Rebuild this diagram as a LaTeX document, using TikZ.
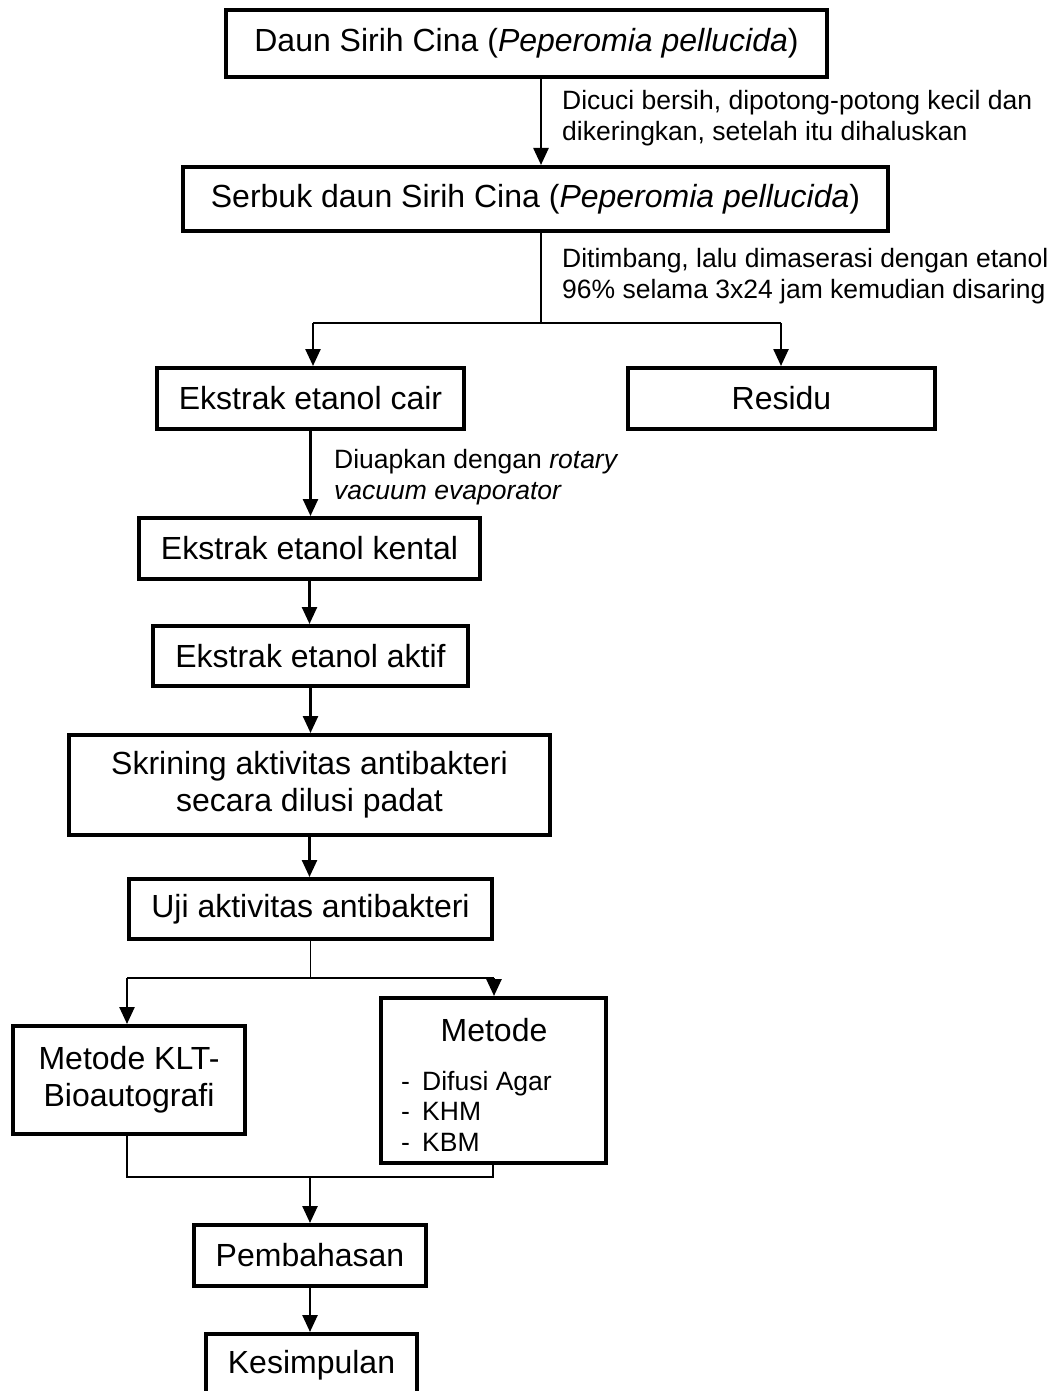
\documentclass[tikz,border=0pt]{standalone}
\usepackage{fontspec}
\setmainfont{Liberation Sans}
\usetikzlibrary{arrows.meta}
\begin{document}
\begin{tikzpicture}[x=1pt,y=-1pt,
  box/.style={draw,line width=4pt,inner sep=0pt,align=center,font=\fontsize{32}{37}\selectfont},
  lbl/.style={inner sep=0pt,align=left,anchor=west,font=\fontsize{26.5}{31}\selectfont},
  arr/.style={line width=2.5pt,-{Triangle[length=17pt,width=15pt]}},
  thinline/.style={line width=1.3pt}]
\useasboundingbox (0,0) rectangle (1060,1391);
\clip (0,0) rectangle (1060,1391);
% boxes
\node[box,minimum width=601pt,minimum height=67pt] (n1) at (526.5,43.5) {Daun Sirih Cina (\textit{Peperomia pellucida})};
\node[box,minimum width=705pt,minimum height=64pt] (n2) at (535.5,199) {Serbuk daun Sirih Cina (\textit{Peperomia pellucida})};
\node[box,minimum width=307pt,minimum height=61pt] (cair) at (310.5,398.5) {Ekstrak etanol cair};
\node[box,minimum width=307pt,minimum height=61pt] (res) at (781.5,398.5) {Residu};
\node[box,minimum width=341pt,minimum height=61pt] (kental) at (309.5,548.5) {Ekstrak etanol kental};
\node[box,minimum width=315pt,minimum height=60pt] (aktif) at (310.5,656) {Ekstrak etanol aktif};
\node[box,minimum width=481pt,minimum height=100pt] (skrin) at (309.5,785) {Skrining aktivitas antibakteri\\secara dilusi padat};
\node[box,minimum width=363pt,minimum height=60pt] (uji) at (310.5,909) {Uji aktivitas antibakteri};
\node[box,minimum width=232pt,minimum height=108pt] (klt) at (129,1080) {Metode KLT-\\Bioautografi};
\node[box,minimum width=225pt,minimum height=165pt] (met) at (493.5,1080.5) {};
\node[inner sep=0pt,font=\fontsize{32}{37}\selectfont] (metT) at (494,1030) {Metode};
\node[inner sep=0pt,anchor=north west,align=left,font=\fontsize{26.5}{30.5}\selectfont] (metL) at (401,1071)
  {\makebox[21pt][l]{-}Difusi Agar\\\makebox[21pt][l]{-}KHM\\\makebox[21pt][l]{-}KBM};
\node[box,minimum width=232pt,minimum height=61pt] (pemb) at (310,1255.5) {Pembahasan};
\node[box,minimum width=211pt,minimum height=62pt] (kes) at (311.5,1365) {Kesimpulan};
% labels
\node[lbl] (l1) at (562,118) {Dicuci bersih, dipotong-potong kecil dan\\dikeringkan, setelah itu dihaluskan};
\node[lbl] (l2) at (562,276) {Ditimbang, lalu dimaserasi dengan etanol\\96\% selama 3x24 jam kemudian disaring};
\node[lbl] (l3) at (334,477.5) {Diuapkan dengan \textit{rotary}\\\textit{vacuum evaporator}};
% connectors
\coordinate (c1) at (541,0);
\draw[arr] (n1.south -| c1) -- (n2.north -| c1);
\coordinate (j1) at (541,323);
\draw[thinline] (n2.south -| c1) -- (j1);
\coordinate (jl) at (313,323);
\coordinate (jr) at (781,323);
\draw[thinline] (jl) -- (jr);
\draw[arr] (jl) -- (jl |- cair.north);
\draw[arr] (jr) -- (jr |- res.north);
\draw[arr] (cair.south) -- (cair.south |- kental.north);
\draw[arr] (kental.south) -- (kental.south |- aktif.north);
\draw[arr] (aktif.south) -- (aktif.south |- skrin.north);
\draw[arr] (skrin.south) -- (skrin.south |- uji.north);
\coordinate (j2) at (310.5,978);
\draw[thinline] (uji.south) -- (j2);
\coordinate (kl) at (127,978);
\coordinate (kr) at (494,978);
\draw[thinline] (kl) -- (kr);
\draw[arr] (kl) -- (kl |- klt.north);
\draw[arr] (kr) -- (kr |- met.north);
\coordinate (bl) at (127,1177);
\coordinate (br) at (493,1177);
\coordinate (bm) at (310,1177);
\draw[thinline] (klt.south -| bl) -- (bl) -- (br) -- (met.south -| br);
\draw[arr] (bm) -- (bm |- pemb.north);
\draw[arr] (pemb.south) -- (pemb.south |- kes.north);
\end{tikzpicture}
\end{document}
